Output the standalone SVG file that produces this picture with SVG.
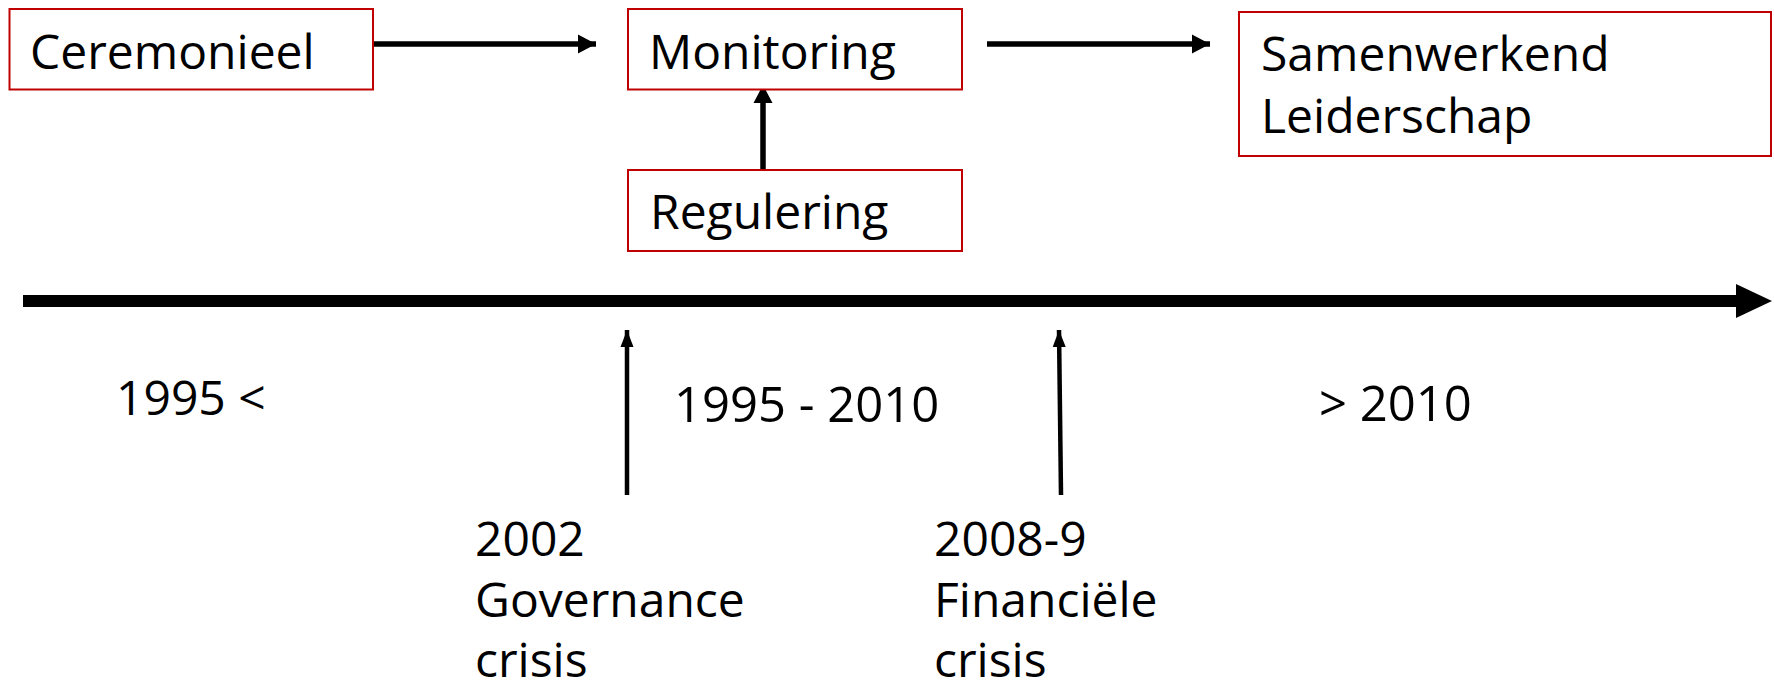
<svg xmlns="http://www.w3.org/2000/svg" width="1774" height="683" viewBox="0 0 1774 683">
<style>
.box{fill:#fff;stroke:#C00000;stroke-width:2}
.t{font-family:"Open Sans","Noto Sans","Liberation Sans",sans-serif;font-size:48px;fill:#000}
.c{stroke:#000;fill:none}
</style>
<defs>
<marker id="ah" markerUnits="userSpaceOnUse" markerWidth="19" markerHeight="20" refX="18" refY="10" orient="auto">
<path d="M0,0.5 L18,10 L0,19.5 Z" fill="#000"/>
</marker>
<marker id="ahs" markerUnits="userSpaceOnUse" markerWidth="18" markerHeight="15" refX="17" refY="7.5" orient="auto">
<path d="M0,1 L17,7.5 L0,14 Z" fill="#000"/>
</marker>
</defs>
<rect width="1774" height="683" fill="#fff"/>
<g id="connectors">
<line class="c" x1="373" y1="44" x2="596" y2="44" stroke-width="5.5" marker-end="url(#ah)"/>
<line class="c" x1="987" y1="44" x2="1210" y2="44" stroke-width="5.5" marker-end="url(#ah)"/>
<line class="c" x1="763" y1="170" x2="763" y2="85" stroke-width="5.5" marker-end="url(#ah)"/>
<line class="c" x1="627" y1="495" x2="627" y2="330" stroke-width="4.5" marker-end="url(#ahs)"/>
<line class="c" x1="1061" y1="495" x2="1059" y2="330" stroke-width="4.5" marker-end="url(#ahs)"/>
</g>
<g id="timeline">
<line x1="23" y1="301" x2="1738" y2="301" stroke="#000" stroke-width="12"/>
<polygon points="1736,284 1772,301 1736,318" fill="#000"/>
</g>
<g id="ceremonieel">
<rect class="box" x="9.5" y="9" width="363.5" height="80.5"/>
<text class="t" x="30" y="69">Ceremonieel</text>
</g>
<g id="monitoring">
<rect class="box" x="628" y="9" width="334" height="80.5"/>
<text class="t" x="649" y="69">Monitoring</text>
</g>
<g id="regulering">
<rect class="box" x="628" y="170" width="334" height="81"/>
<text class="t" x="650" y="229">Regulering</text>
</g>
<g id="samenwerkend">
<rect class="box" x="1239" y="12" width="532" height="144"/>
<text class="t" x="1261" y="71">Samenwerkend</text>
<text class="t" x="1261" y="133">Leiderschap</text>
</g>
<g id="labels">
<text class="t" x="116" y="415">1995 &lt;</text>
<text class="t" x="674" y="422" style="font-size:49px">1995 - 2010</text>
<text class="t" x="1319" y="421" style="font-size:49px">&gt; 2010</text>
<text class="t" x="475" y="556">2002</text>
<text class="t" x="475" y="617">Governance</text>
<text class="t" x="475" y="677">crisis</text>
<text class="t" x="934" y="556">2008-9</text>
<text class="t" x="934" y="617">Financiële</text>
<text class="t" x="934" y="677">crisis</text>
</g>
</svg>
